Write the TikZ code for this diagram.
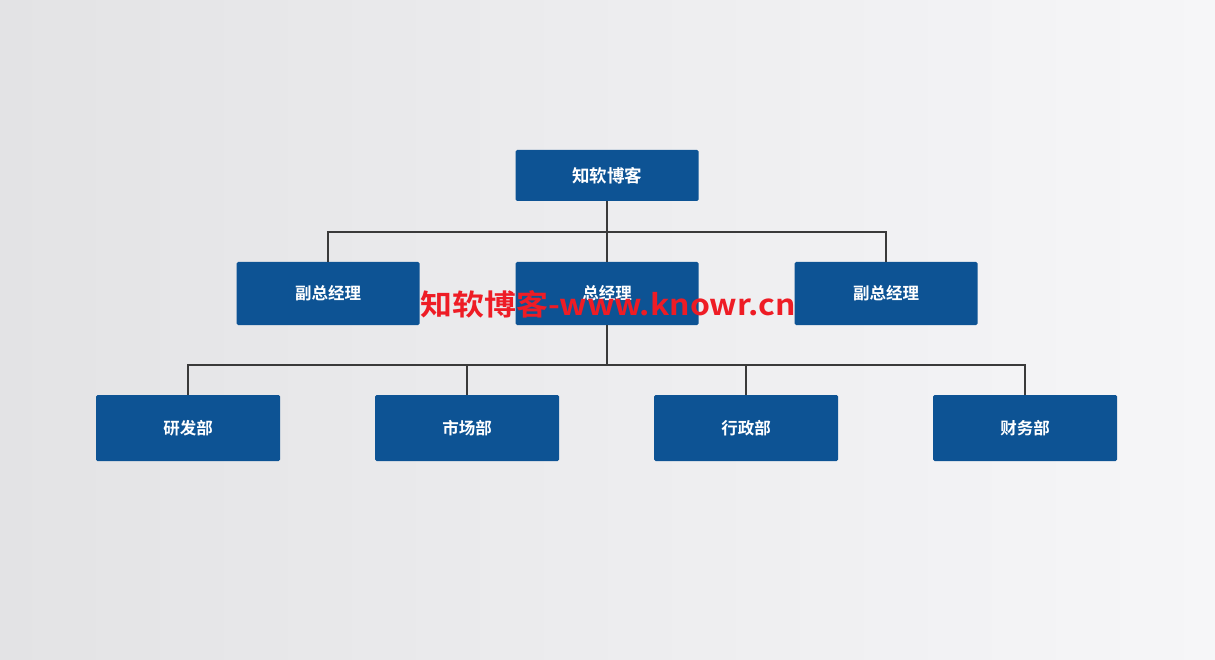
\documentclass[tikz,border=0pt]{standalone}
\usepackage{fontspec}
\newfontfamily\cjk{Noto Sans CJK SC}[BoldFont={* Bold}]
\definecolor{boxblue}{HTML}{0D5394}
\definecolor{linegray}{HTML}{3A3A3A}
\definecolor{bgleft}{HTML}{E3E3E5}
\definecolor{bgright}{HTML}{F6F6F8}
\definecolor{wmred}{HTML}{EE1C25}
\tikzset{
  orgbox/.style={fill=boxblue, rounded corners=1.5pt, minimum width=183pt, inner sep=0pt,
                 text=white, font=\cjk\bfseries\fontsize{16.5}{18}\selectfont},
  conn/.style={draw=linegray, line width=1.6pt},
}
\begin{document}
\begin{tikzpicture}[x=1pt,y=-1pt]
\shade[shading angle=60, left color=bgleft, right color=bgright] (0,0) rectangle (1215,660);
\useasboundingbox (0,0) rectangle (1215,660);
\coordinate (j1) at (607,232);
\coordinate (j2) at (607,365);
\node[orgbox, minimum height=51pt, font=\cjk\bfseries\fontsize{17.5}{19}\selectfont] (top) at (607,175.5) {\raisebox{2pt}{知软博客}};
\node[orgbox, minimum height=63pt] (vpL) at (328,293.5) {副总经理};
\node[orgbox, minimum height=63pt] (gm) at (607,293.5) {总经理};
\node[orgbox, minimum height=63pt] (vpR) at (886,293.5) {副总经理};
\node[orgbox, minimum width=184pt, minimum height=66pt] (d1) at (188,428) {研发部};
\node[orgbox, minimum width=184pt, minimum height=66pt] (d2) at (467,428) {市场部};
\node[orgbox, minimum width=184pt, minimum height=66pt] (d3) at (746,428) {行政部};
\node[orgbox, minimum width=184pt, minimum height=66pt] (d4) at (1025,428) {财务部};
\draw[conn] (top.south) -- (j1);
\draw[conn] (j1) -- (gm.north);
\draw[conn] (vpL.north) |- (j1) -| (vpR.north);
\draw[conn] (gm.south) -- (j2);
\draw[conn] (d1.north) |- (j2) -| (d4.north);
\draw[conn] (d2.north) -- (d2.north |- j2);
\draw[conn] (d3.north) -- (d3.north |- j2);
\node[text=wmred, font=\cjk\bfseries\fontsize{29}{32}\selectfont, inner sep=0pt, xscale=1.1] (wm) at (608,304) {知软博客-www.knowr.cn};
\end{tikzpicture}
\end{document}
